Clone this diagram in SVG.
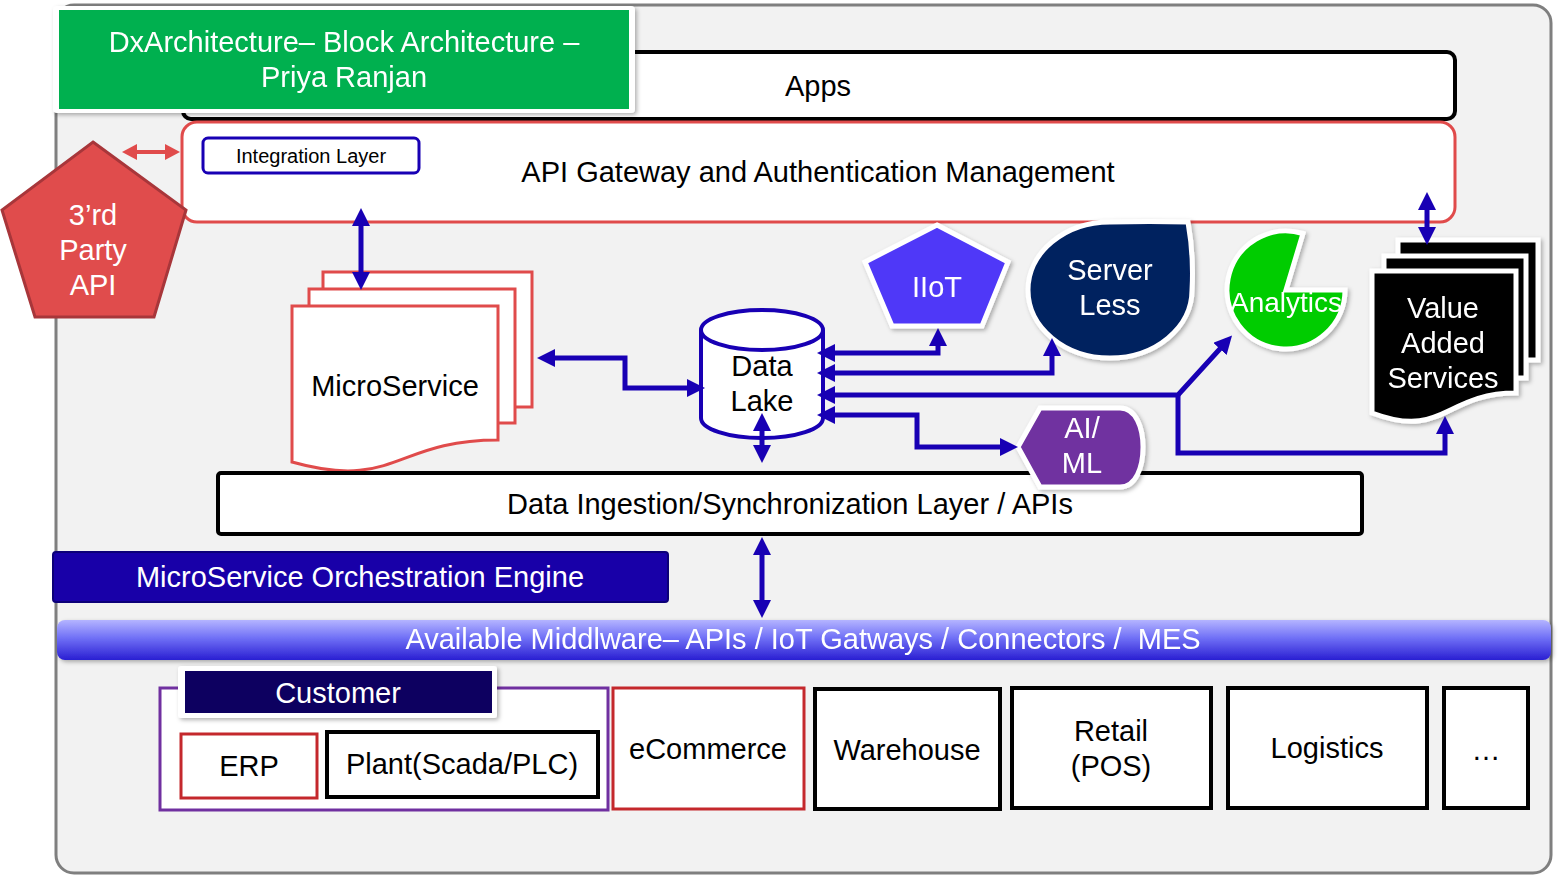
<svg xmlns="http://www.w3.org/2000/svg" width="1561" height="877" viewBox="0 0 1561 877">
<style>
text{font-family:"Liberation Sans",Arial,sans-serif;font-size:29px;text-anchor:middle;fill:#000}
.w{fill:#fff}
.conn{fill:none;stroke:#1800b4;stroke-width:5;stroke-linejoin:miter}
.blk{fill:#fff;stroke:#000;stroke-width:4}
.red{fill:#fff;stroke:#c4282c;stroke-width:3}
.wl{stroke:#fff;stroke-width:5}
</style>
<defs>
<marker id="ah" markerUnits="userSpaceOnUse" markerWidth="20" markerHeight="20" refX="12" refY="9" orient="auto-start-reverse"><path d="M0,0 L18,9 L0,18 Z" fill="#1800b4"/></marker>
<marker id="ahr" markerUnits="userSpaceOnUse" markerWidth="18" markerHeight="18" refX="9" refY="8" orient="auto-start-reverse"><path d="M0,0 L15,8 L0,16 Z" fill="#e04b4b"/></marker>
<linearGradient id="mw" x1="0" y1="0" x2="0" y2="1"><stop offset="0" stop-color="#b4b4ff"/><stop offset="0.45" stop-color="#7070f6"/><stop offset="1" stop-color="#2a1fd2"/></linearGradient>
<filter id="sh" x="-10%" y="-10%" width="120%" height="130%"><feDropShadow dx="2" dy="2" stdDeviation="2" flood-color="#000" flood-opacity="0.3"/></filter>
</defs>

<rect id="frame" x="56" y="5" width="1495" height="868" rx="18" fill="#f2f2f2" stroke="#7f7f7f" stroke-width="3"/>

<g id="apps"><rect x="183" y="52" width="1272" height="67" rx="8" class="blk"/><text x="818" y="96">Apps</text></g>

<g id="title" filter="url(#sh)"><rect x="53" y="6" width="582" height="107" rx="4" fill="#fff"/><rect x="59" y="10" width="570" height="99" fill="#00b050"/>
<text x="344" y="52" class="w">DxArchitecture– Block Architecture –</text><text x="344" y="87" class="w">Priya Ranjan</text></g>

<g id="api-gateway"><rect x="182" y="122" width="1273" height="100" rx="15" fill="#fff" stroke="#e04b4b" stroke-width="3"/><text x="818" y="182">API Gateway and Authentication Management</text></g>

<g id="integration-layer"><rect x="203" y="138" width="216" height="35" rx="5" fill="#fff" stroke="#1800b4" stroke-width="3"/><text x="311" y="163" style="font-size:20px">Integration Layer</text></g>

<g id="third-party-api"><polygon points="93,142 186,210 154,317 35,317 2,210" fill="#e04c4c" stroke="#a8363a" stroke-width="3"/><text x="93" y="225" class="w">3’rd</text><text x="93" y="260" class="w">Party</text><text x="93" y="295" class="w">API</text></g>

<g id="microservice">
<rect x="323" y="272" width="209" height="135" fill="#fff" stroke="#e04b4b" stroke-width="3"/>
<rect x="309" y="289" width="206" height="134" fill="#fff" stroke="#e04b4b" stroke-width="3"/>
<path d="M292,306 H498 V440 C395,440 395,491 292,462 Z" fill="#fff" stroke="#e04b4b" stroke-width="3"/>
<text x="395" y="396">MicroService</text></g>

<g id="data-lake"><path d="M701,330 V418 A61,20 0 0 0 823,418 V330" fill="#fff" stroke="#1800b4" stroke-width="4"/><ellipse cx="762" cy="330" rx="61" ry="20" fill="#fff" stroke="#1800b4" stroke-width="4"/><text x="762" y="376">Data</text><text x="762" y="411">Lake</text></g>

<g id="data-ingestion"><rect x="218" y="473" width="1144" height="61" rx="3" class="blk" stroke-width="3"/><text x="790" y="514">Data Ingestion/Synchronization Layer / APIs</text></g>

<g id="iiot" filter="url(#sh)"><polygon points="937,225 1008,262 982,326 892,326 865,262" fill="#5038f8" class="wl"/><text x="937" y="297" class="w">IIoT</text></g>

<g id="server-less" filter="url(#sh)"><path d="M1028,290 A82,68 0 0 1 1110,222 Q1150,221 1188,222 Q1194,256 1192,290 A82,68 0 0 1 1110,358 A82,68 0 0 1 1028,290 Z" fill="#03205e" class="wl"/><text x="1110" y="280" class="w">Server</text><text x="1110" y="315" class="w">Less</text></g>

<g id="analytics" filter="url(#sh)"><path d="M1286,290 L1345,290 A59,59 0 1 1 1303,233.5 Z" fill="#00cc00" class="wl"/><text x="1286" y="312" class="w" style="font-size:28px">Analytics</text></g>

<g id="ai-ml" filter="url(#sh)"><path d="M1018,447 L1040,408 L1120,408 C1136,408 1143,428 1143,447 C1143,467 1136,487 1120,487 L1040,487 Z" fill="#7030a0" class="wl"/><text x="1082" y="438" class="w">AI/</text><text x="1082" y="473" class="w">ML</text></g>

<g id="value-added-services" filter="url(#sh)">
<rect x="1398" y="240" width="140" height="120" fill="#000" class="wl"/>
<rect x="1384" y="256" width="142" height="122" fill="#000" class="wl"/>
<path d="M1372,271 H1516 V393 C1444,393 1444,440 1372,413 Z" fill="#000" class="wl"/>
<text x="1443" y="318" class="w">Value</text><text x="1443" y="353" class="w">Added</text><text x="1443" y="388" class="w">Services</text></g>

<g id="orchestration-engine"><rect x="53" y="552" width="615" height="50" rx="3" fill="#1800a8" stroke="#0c0078" stroke-width="2"/><text x="360" y="587" class="w">MicroService Orchestration Engine</text></g>

<g id="middleware" filter="url(#sh)"><rect x="57" y="620" width="1494" height="40" rx="8" fill="url(#mw)"/><text x="803" y="649" class="w" xml:space="preserve">Available Middlware– APIs / IoT Gatways / Connectors /  MES</text></g>

<g id="customer"><rect x="160" y="688" width="448" height="122" fill="#fff" stroke="#7030a0" stroke-width="3"/>
<g filter="url(#sh)"><rect x="178" y="666" width="319" height="52" rx="3" fill="#fff"/><rect x="185" y="671" width="307" height="42" fill="#0c0060"/></g>
<text x="338" y="703" class="w">Customer</text></g>
<g id="erp"><rect x="181" y="734" width="136" height="64" class="red"/><text x="249" y="776">ERP</text></g>
<g id="plant"><rect x="327" y="732" width="271" height="65" class="blk"/><text x="462" y="774">Plant(Scada/PLC)</text></g>
<g id="ecommerce"><rect x="613" y="688" width="191" height="121" class="red"/><text x="708" y="759">eCommerce</text></g>
<g id="warehouse"><rect x="815" y="689" width="185" height="120" class="blk"/><text x="907" y="760">Warehouse</text></g>
<g id="retail"><rect x="1012" y="688" width="199" height="120" class="blk"/><text x="1111" y="741">Retail</text><text x="1111" y="776">(POS)</text></g>
<g id="logistics"><rect x="1228" y="688" width="199" height="120" class="blk"/><text x="1327" y="758">Logistics</text></g>
<g id="more"><rect x="1444" y="688" width="84" height="120" class="blk"/><text x="1486" y="760">…</text></g>

<g id="connectors">
<path d="M128,152 H174" fill="none" stroke="#e04b4b" stroke-width="4" marker-start="url(#ahr)" marker-end="url(#ahr)"/>
<path class="conn" d="M361,214 V284" marker-start="url(#ah)" marker-end="url(#ah)"/>
<path class="conn" d="M543,358 H625 V388 H699" marker-start="url(#ah)" marker-end="url(#ah)"/>
<path class="conn" d="M762,419 V457" marker-start="url(#ah)" marker-end="url(#ah)"/>
<path class="conn" d="M762,543 V612" marker-start="url(#ah)" marker-end="url(#ah)"/>
<path class="conn" d="M823,353 H938 V334" marker-start="url(#ah)" marker-end="url(#ah)"/>
<path class="conn" d="M823,373 H1052 V344" marker-start="url(#ah)" marker-end="url(#ah)"/>
<path class="conn" d="M823,395 H1178 L1228,340" marker-start="url(#ah)" marker-end="url(#ah)"/>
<path class="conn" d="M1178,395 V453 H1445 V422" marker-end="url(#ah)"/>
<path class="conn" d="M823,415 H917 V447 H1012" marker-start="url(#ah)" marker-end="url(#ah)"/>
<path class="conn" d="M1427,198 V239" marker-start="url(#ah)" marker-end="url(#ah)"/>
</g>
</svg>
